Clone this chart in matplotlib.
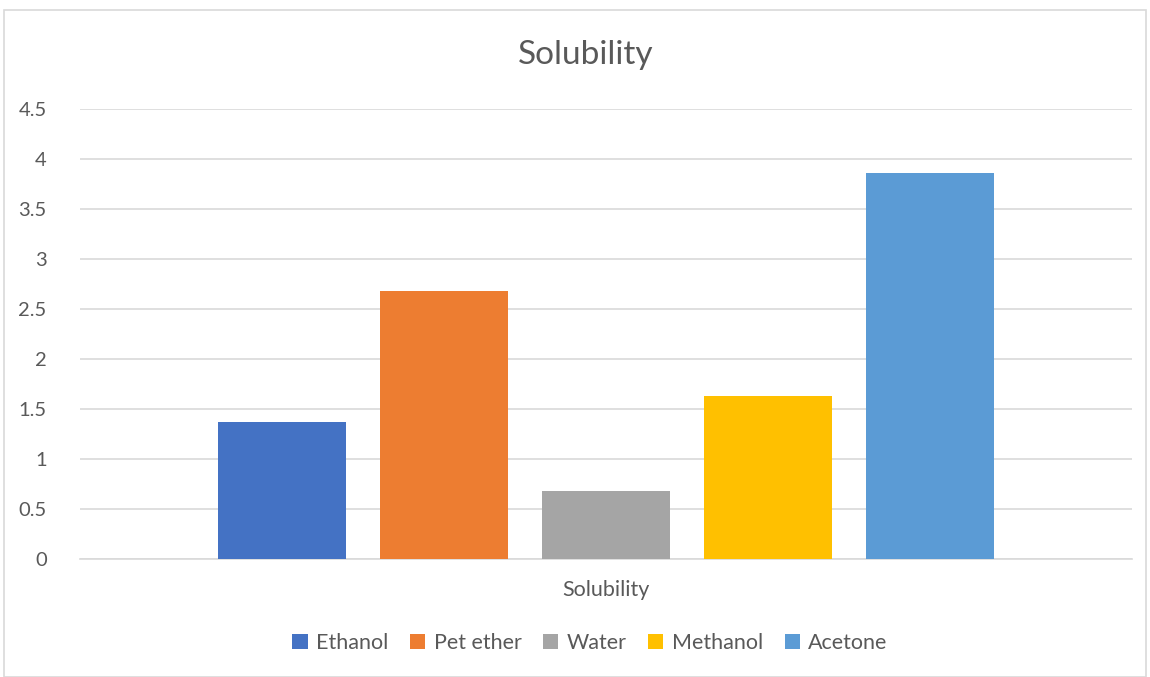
import matplotlib
matplotlib.use("Agg")
import matplotlib.pyplot as plt
from matplotlib.patches import Rectangle, Patch

solvents = ["Ethanol", "Pet ether", "Water", "Methanol", "Acetone"]
solubility = [1.37, 2.68, 0.68, 1.63, 3.86]
colors = ["#4472C4", "#ED7D31", "#A5A5A5", "#FFC000", "#5B9BD5"]
yticks = [0, 0.5, 1, 1.5, 2, 2.5, 3, 3.5, 4, 4.5]
ytick_labels = ["0", "0.5", "1", "1.5", "2", "2.5", "3", "3.5", "4", "4.5"]

plt.rcParams["font.family"] = ["Lato", "DejaVu Sans"]
text_color = "#595959"
grid_color = "#D9D9D9"

W, H = 1150, 677
fig = plt.figure(figsize=(W / 100, H / 100), dpi=100)

# chart frame
fig.patches.append(Rectangle((4 / W, 0.5 / H), (1146 - 4) / W, (667) / H,
                             transform=fig.transFigure, fill=False,
                             edgecolor=grid_color, linewidth=1.2))

ax = fig.add_axes([80 / W, (H - 559) / H, (1132 - 80) / W, (559 - 109) / H])
x = list(range(len(solvents)))
ax.bar(x, solubility, width=0.79, color=colors, zorder=3)

ax.set_ylim(0, 4.5)
ax.set_xlim(2 - 3.247, 2 + 3.247)
ax.set_yticks(yticks)
ax.set_yticklabels(ytick_labels)
ax.set_xticks([])
ax.yaxis.grid(True, color=grid_color, linewidth=1.2, zorder=0)
for s in ["top", "right", "left"]:
    ax.spines[s].set_visible(False)
ax.spines["bottom"].set_color(grid_color)
ax.spines["bottom"].set_linewidth(1.2)
ax.tick_params(axis="y", length=0, pad=24, labelsize=14.5, labelcolor=text_color)

fig.text(586 / W, 1 - 55 / H, "Solubility", ha="center", va="center",
         fontsize=24, color=text_color)
fig.text(606 / W, 1 - 590 / H, "Solubility", ha="center", va="center",
         fontsize=15.5, color=text_color)

handles = [Patch(facecolor=c, label=n) for c, n in zip(colors, solvents)]
fig.legend(handles=handles, loc="center", bbox_to_anchor=(590 / W, 1 - 643 / H),
           ncol=5, frameon=False, fontsize=15.5, labelcolor=text_color,
           handlelength=0.7, handleheight=0.7, handletextpad=0.4,
           columnspacing=1.0)

fig.savefig("out.png", dpi=100)
